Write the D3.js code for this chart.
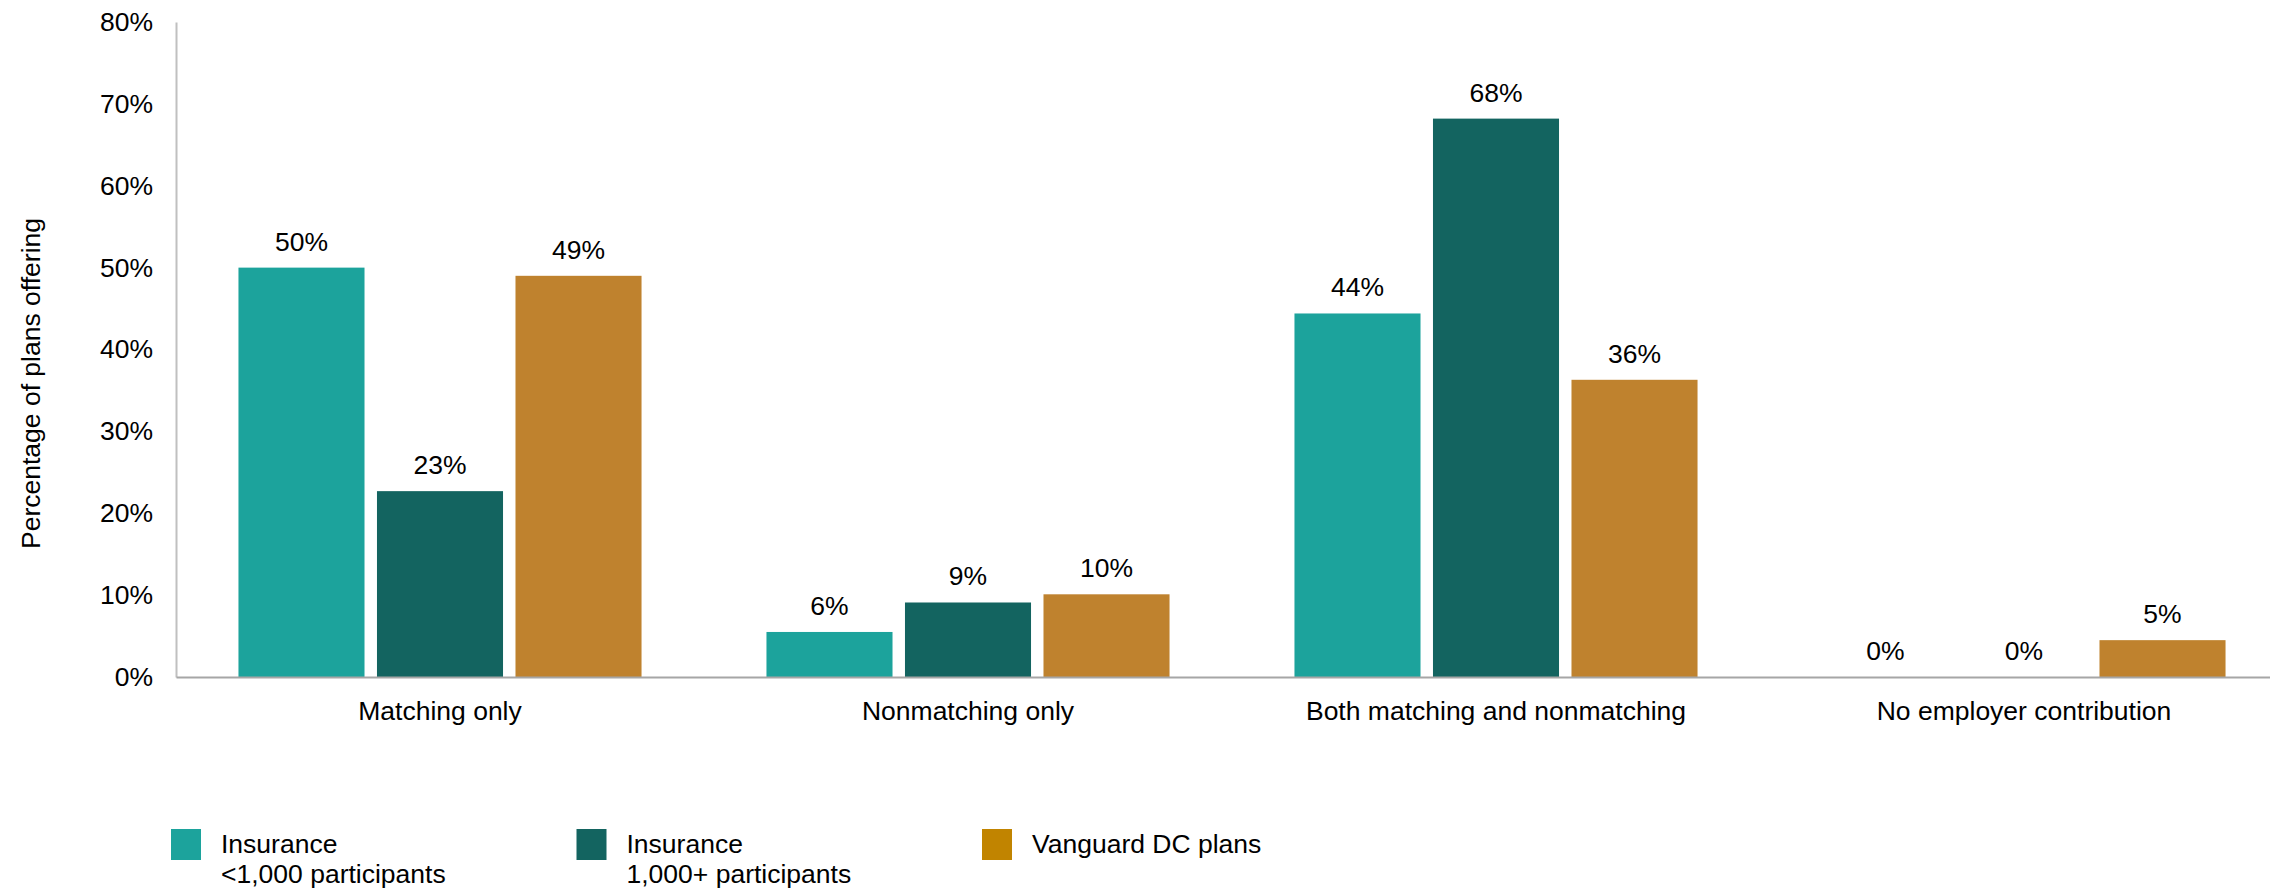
<!DOCTYPE html>
<html>
<head>
<meta charset="utf-8">
<script src="https://cdn.jsdelivr.net/npm/d3@7"></script>
<style>
  body { margin: 0; background: #fff; }
  svg { display: block; font-family: "Liberation Sans", Arial, sans-serif; }
</style>
</head>
<body>
<div id="chart"></div>
<script>
// data
const categories = ["Matching only", "Nonmatching only", "Both matching and nonmatching", "No employer contribution"];
const seriesNames = ["Insurance <1,000 participants", "Insurance 1,000+ participants", "Vanguard DC plans"];
const legendLines = [["Insurance", "<1,000 participants"], ["Insurance", "1,000+ participants"], ["Vanguard DC plans"]];
const insuranceSmall = [50.0, 5.5, 44.4, 0];
const insuranceLarge = [22.7, 9.1, 68.2, 0];
const vanguardDC = [49.0, 10.1, 36.3, 4.5];
const yTicks = [0, 10, 20, 30, 40, 50, 60, 70, 80];
const barColors = ["#1ca39c", "#136460", "#bf822e"];
const legendColors = ["#1ca39c", "#136460", "#c18400"];

const seriesValues = [insuranceSmall, insuranceLarge, vanguardDC];

const W = 2270, H = 892;
const plotLeft = 176, plotTop = 22, plotBottom = 677;
const fontSize = "26.5px";

const svg = d3.select("#chart").append("svg")
    .attr("width", W)
    .attr("height", H);

// scales
const x0 = d3.scaleBand()
    .domain(categories)
    .range([plotLeft, plotLeft + 4 * 528])
    .padding(0);

const x1 = d3.scaleBand()
    .domain(seriesNames)
    .range([0, x0.bandwidth()])
    .paddingInner(0.09)
    .paddingOuter(0.451);

const y = d3.scaleLinear()
    .domain([0, 80])
    .range([plotBottom, plotTop]);

// bars
const groups = svg.append("g").selectAll("g")
    .data(categories)
    .join("g")
    .attr("transform", d => `translate(${x0(d)},0)`);

groups.selectAll("rect")
    .data((d, i) => seriesNames.map((s, j) => ({ s, j, v: seriesValues[j][i] })))
    .join("rect")
    .attr("x", d => x1(d.s))
    .attr("y", d => y(d.v))
    .attr("width", x1.bandwidth())
    .attr("height", d => y(0) - y(d.v))
    .attr("fill", d => barColors[d.j]);

groups.selectAll("text")
    .data((d, i) => seriesNames.map((s, j) => ({ s, j, v: seriesValues[j][i] })))
    .join("text")
    .attr("x", d => x1(d.s) + x1.bandwidth() / 2)
    .attr("y", d => y(d.v) - 17)
    .attr("text-anchor", "middle")
    .attr("font-size", fontSize)
    .attr("fill", "#000")
    .text(d => Math.round(d.v) + "%");

// y axis
const yAxis = svg.append("g")
    .attr("transform", `translate(${plotLeft},0)`)
    .call(d3.axisLeft(y).tickValues(yTicks).tickSize(0).tickPadding(23).tickFormat(d => d + "%"));
yAxis.select(".domain").attr("stroke", "#c0c0c0").attr("stroke-width", 2);
yAxis.selectAll("text").attr("font-size", fontSize).attr("fill", "#000")
    .attr("font-family", "Liberation Sans, Arial, sans-serif");

// x axis
const xAxis = svg.append("g")
    .attr("transform", `translate(0,${plotBottom})`)
    .call(d3.axisBottom(x0).tickSize(0).tickPadding(24));
xAxis.select(".domain").attr("stroke", "#a6a6a6").attr("stroke-width", 2);
xAxis.selectAll("text").attr("font-size", fontSize).attr("fill", "#000")
    .attr("font-family", "Liberation Sans, Arial, sans-serif");

// y axis title
svg.append("text")
    .attr("transform", `translate(40,${(plotTop + plotBottom) / 2 + 34}) rotate(-90)`)
    .attr("text-anchor", "middle")
    .attr("font-size", fontSize)
    .attr("fill", "#000")
    .text("Percentage of plans offering");

// legend
const legend = svg.append("g").selectAll("g")
    .data(seriesNames)
    .join("g")
    .attr("transform", (d, i) => `translate(${171 + i * 405.5},829)`);

legend.append("rect")
    .attr("width", 30)
    .attr("height", 31)
    .attr("fill", (d, i) => legendColors[i]);

legend.append("text")
    .attr("x", 50)
    .attr("y", 24)
    .attr("font-size", fontSize)
    .attr("fill", "#000")
    .selectAll("tspan")
    .data((d, i) => legendLines[i])
    .join("tspan")
    .attr("x", 50)
    .attr("dy", (d, k) => k === 0 ? 0 : 30)
    .text(d => d);
</script>
</body>
</html>
